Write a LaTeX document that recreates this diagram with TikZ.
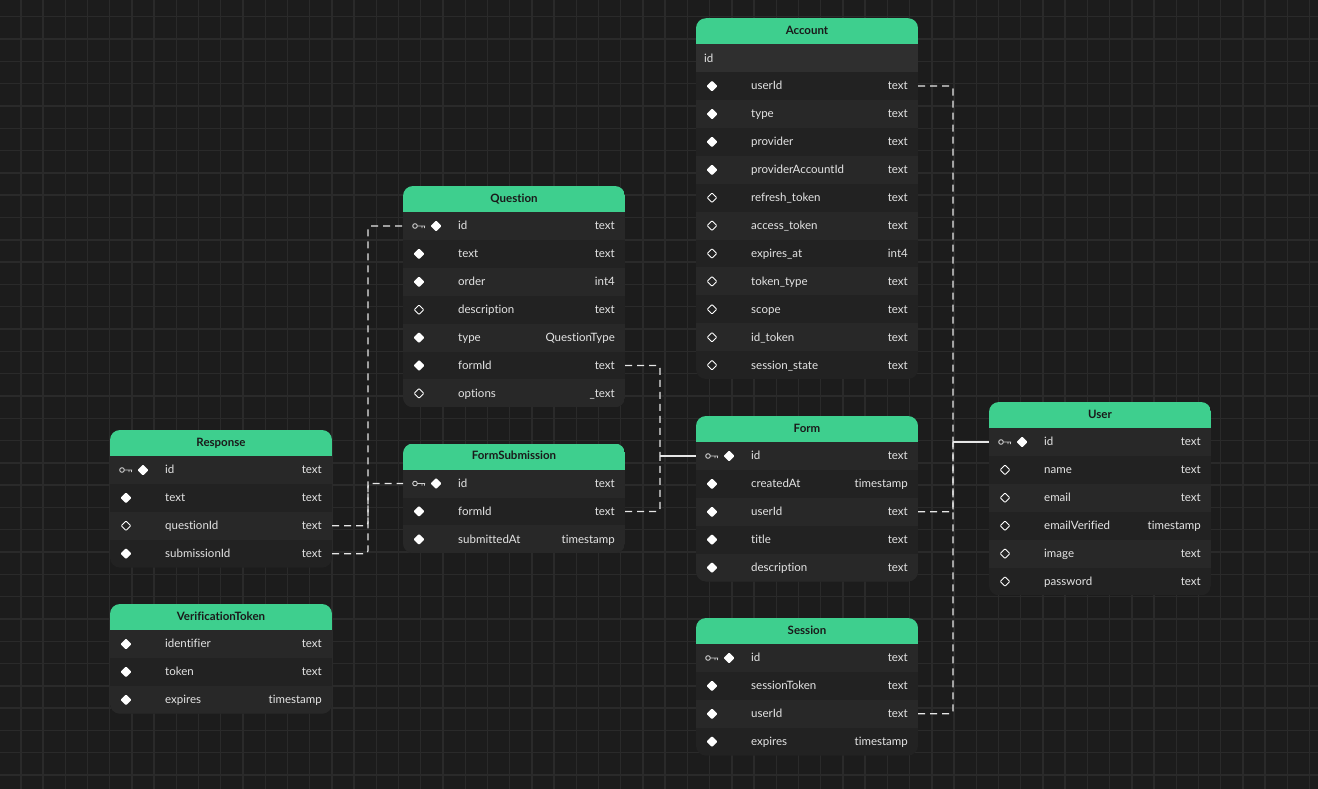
\documentclass[tikz,border=0pt]{standalone}
\usepackage{fontspec}
\setmainfont{Lato}[Ligatures=CommonOff]
\definecolor{bg}{HTML}{1C1C1C}
\definecolor{gridc}{HTML}{2A2A2A}
\definecolor{hdr}{HTML}{3ECF8E}
\definecolor{hdrtxt}{HTML}{1A1A1A}
\definecolor{rowa}{HTML}{282828}
\definecolor{rowb}{HTML}{222222}
\definecolor{rowid}{HTML}{2F2F2F}
\definecolor{txt}{HTML}{E4E4E4}
\definecolor{lnk}{HTML}{E6E6E6}
\definecolor{keyc}{HTML}{CFCFCF}
\tikzset{
  fname/.style={anchor=west,text=txt,font=\fontsize{11.5}{13}\selectfont,inner sep=0pt,text height=8pt,text depth=2pt,yshift=-0.9pt},
  ftype/.style={anchor=east,text=txt,font=\fontsize{11.5}{13}\selectfont,inner sep=0pt,text height=8pt,text depth=2pt,yshift=-0.9pt},
  ttl/.style={text=hdrtxt,font=\bfseries\fontsize{11.5}{13}\selectfont,inner sep=0pt,text height=8pt,text depth=2pt,yshift=-0.9pt},
  rowbox/.style={minimum width=222pt,minimum height=27.9pt,inner sep=0pt,outer sep=0pt},
  fk/.style={draw=lnk,line width=1.2pt,dash pattern=on 7pt off 5pt,rounded corners=3pt},
  pk/.style={draw=lnk,line width=1.2pt},
  gridline/.style={draw=gridc,line width=1.4pt}
}
\newcommand\erdnxk{55}
\newcommand\erdnxf{55}
\newcommand\erdnxo{55}
\newcommand\erdnxn{8}
\newcommand\erdiconk[2]{%
  \draw[keyc,line width=0.9pt] (#1+12,#2) circle[radius=2.3pt] (#1+14.3,#2) -- (#1+22,#2) (#1+19,#2) -- (#1+19,#2+2.2) (#1+21.5,#2) -- (#1+21.5,#2+2.2);
  \fill[white,rounded corners=1pt] (#1+33,#2-5.5) -- (#1+38.5,#2) -- (#1+33,#2+5.5) -- (#1+27.5,#2) -- cycle;}
\newcommand\erdiconf[2]{%
  \fill[white,rounded corners=1pt] (#1+16,#2-5.5) -- (#1+21.5,#2) -- (#1+16,#2+5.5) -- (#1+10.5,#2) -- cycle;}
\newcommand\erdicono[2]{%
  \draw[white,line width=0.9pt,rounded corners=0.8pt] (#1+16,#2-4.8) -- (#1+20.8,#2) -- (#1+16,#2+4.8) -- (#1+11.2,#2) -- cycle;}
\newcommand\erdiconn[2]{%
  \fill[rowid] (#1,#2-13.95) rectangle (#1+222,#2+13.95);}
% #1 name, #2 left x, #3 first row centre y, #4 rows, #5 title, #6 rows list
\newcommand\erdtable[6]{%
  \pgfmathsetmacro\tbtop{#3-40}%
  \pgfmathsetmacro\tbhb{#3-14}%
  \pgfmathsetmacro\tbbot{#3-14+#4*27.9}%
  \begin{scope}
    \clip[rounded corners=10pt] (#2,\tbtop) rectangle (#2+222,\tbbot);
    \fill[rowb] (#2,\tbtop) rectangle (#2+222,\tbbot);
    \foreach \i in {1,...,#4}{%
      \pgfmathsetmacro\ra{#3-14+(\i-1)*27.9}%
      \pgfmathsetmacro\rb{#3+14+(\i-1)*27.9}%
      \ifodd\i\relax \fill[rowa] (#2,\ra) rectangle (#2+222,\rb); \fi
    }
    \fill[hdr] (#2,\tbtop) rectangle (#2+222,\tbhb);
  \end{scope}
  \node[ttl] (#1) at (#2+111,#3-27.5) {#5};
  \foreach[count=\i] \ic/\nm/\ty in {#6}{%
    \pgfmathsetmacro\ry{#3+(\i-1)*27.9}%
    \csname erdicon\ic\endcsname{#2}{\ry}
    \node[rowbox] (#1-\i) at (#2+111,\ry) {};
    \node[fname] at (#2+\csname erdnx\ic\endcsname,\ry) {\nm};
    \node[ftype] at (#2+212,\ry) {\ty};
  }}
\begin{document}
\begin{tikzpicture}[x=1pt,y=-1pt]
\useasboundingbox (0,0) rectangle (1318,789);
\fill[bg] (0,0) rectangle (1318,789);
\foreach \k in {0,...,58}{\draw[gridline] (20.8+\k*22.22,0) -- (20.8+\k*22.22,789);}
\foreach \k in {0,...,35}{\draw[gridline] (0,16.8+\k*22.3) -- (1318,16.8+\k*22.3);}

\erdtable{acc}{696}{58.2}{12}{Account}{n/id/, f/userId/text, f/type/text, f/provider/text, f/providerAccountId/text, o/refresh\_token/text, o/access\_token/text, o/expires\_at/int4, o/token\_type/text, o/scope/text, o/id\_token/text, o/session\_state/text}
\erdtable{q}{403}{226}{7}{Question}{k/id/text, f/text/text, f/order/int4, o/description/text, f/type/QuestionType, f/formId/text, o/options/\_text}
\erdtable{resp}{110}{470}{4}{Response}{k/id/text, f/text/text, o/questionId/text, f/submissionId/text}
\erdtable{fs}{403}{483.5}{3}{FormSubmission}{k/id/text, f/formId/text, f/submittedAt/timestamp}
\erdtable{vt}{110}{644}{3}{VerificationToken}{f/identifier/text, f/token/text, f/expires/timestamp}
\erdtable{form}{696}{456}{5}{Form}{k/id/text, f/createdAt/timestamp, f/userId/text, f/title/text, f/description/text}
\erdtable{ses}{696}{658}{4}{Session}{k/id/text, f/sessionToken/text, f/userId/text, f/expires/timestamp}
\erdtable{user}{989}{442}{6}{User}{k/id/text, o/name/text, o/email/text, o/emailVerified/timestamp, o/image/text, o/password/text}

\coordinate (fj) at ([xshift=-36pt]form-1.west);
\coordinate (uj) at ([xshift=-36pt]user-1.west);
\draw[fk] (resp-3.east) -- ([xshift=36pt]resp-3.east) |- (q-1.west);
\draw[fk] (resp-4.east) -- ([xshift=36pt]resp-4.east) |- (fs-1.west);
\draw[fk] (q-6.east) -| (fj);
\draw[fk] (fs-2.east) -| (fj);
\draw[pk] (fj) -- (form-1.west);
\draw[fk] (acc-2.east) -| (uj);
\draw[fk] (form-3.east) -| (uj);
\draw[fk] (ses-3.east) -| (uj);
\draw[pk] (uj) -- (user-1.west);
\end{tikzpicture}
\end{document}
